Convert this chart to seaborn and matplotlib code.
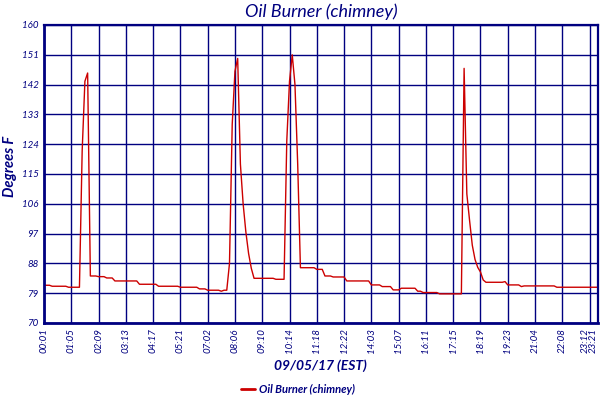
import numpy as np
import pandas as pd
import matplotlib
matplotlib.use("Agg")
import matplotlib.pyplot as plt
import seaborn as sns

title = "Oil Burner (chimney)"
series_name = "Oil Burner (chimney)"
y_label = "Degrees F"
x_label = "09/05/17 (EST)"
x_tick_labels = ["00:01", "01:05", "02:09", "03:13", "04:17", "05:21", "07:02",
                 "08:06", "09:10", "10:14", "11:18", "12:22", "14:03", "15:07",
                 "16:11", "17:15", "18:19", "19:23", "21:04", "22:08", "23:12", "23:21"]
x_tick_samples = [0, 10, 20, 30, 40, 50, 60, 70, 80, 90, 100, 110, 120, 130,
                  140, 150, 160, 170, 180, 190, 200, 203]
y_ticks = [70, 79, 88, 97, 106, 115, 124, 133, 142, 151, 160]

temps = [
    81.4, 81.4, 81.4, 81.1, 81.1, 81.1, 81.1, 81.1, 81.1, 80.8,   # 0-9
    80.8, 80.8, 80.8, 80.8, 122.0, 143.0, 145.5, 84.2, 84.2, 84.2,  # 10-19
    84.0, 84.0, 84.0, 83.6, 83.6, 83.6, 82.7, 82.7, 82.7, 82.7,   # 20-29
    82.7, 82.7, 82.7, 82.7, 82.7, 81.7, 81.7, 81.7, 81.7, 81.7,   # 30-39
    81.7, 81.7, 81.1, 81.1, 81.1, 81.1, 81.1, 81.1, 81.1, 81.1,   # 40-49
    80.8, 80.8, 80.8, 80.8, 80.8, 80.8, 80.8, 80.3, 80.3, 80.3,   # 50-59
    79.9, 79.9, 79.9, 79.9, 79.9, 79.6, 79.9, 79.9, 88.0, 130.0,  # 60-69
    146.0, 149.9, 118.0, 106.0, 97.5, 91.0, 86.5, 83.5, 83.5, 83.5,  # 70-79
    83.5, 83.5, 83.5, 83.5, 83.5, 83.2, 83.2, 83.2, 83.2, 125.0,  # 80-89
    143.0, 151.0, 142.0, 118.0, 86.7, 86.7, 86.7, 86.7, 86.7, 86.7,  # 90-99
    86.2, 86.2, 86.2, 84.2, 84.2, 84.2, 83.9, 83.9, 83.9, 83.9,   # 100-109
    83.9, 82.7, 82.7, 82.7, 82.7, 82.7, 82.7, 82.7, 82.7, 82.7,   # 110-119
    81.5, 81.5, 81.5, 81.5, 81.0, 81.0, 81.0, 81.0, 80.0, 80.0,   # 120-129
    80.0, 80.5, 80.5, 80.5, 80.5, 80.5, 80.5, 79.6, 79.6, 79.2,   # 130-139
    79.2, 79.2, 79.2, 79.2, 79.2, 78.8, 78.8, 78.8, 78.8, 78.8,   # 140-149
    78.8, 78.8, 78.8, 78.8, 146.9, 109.0, 101.0, 93.5, 89.2, 86.8,  # 150-159
    85.4, 83.0, 82.3, 82.3, 82.3, 82.3, 82.3, 82.3, 82.3, 82.5,   # 160-169
    81.5, 81.5, 81.5, 81.5, 81.5, 81.0, 81.2, 81.2, 81.2, 81.2,   # 170-179
    81.2, 81.2, 81.2, 81.2, 81.2, 81.2, 81.2, 81.2, 80.8, 80.8,   # 180-189
    80.8, 80.8, 80.8, 80.8, 80.8, 80.8, 80.8, 80.8, 80.8, 80.8,   # 190-199
    80.8, 80.8, 80.8, 80.8,                                       # 200-203
]

navy = "#000080"
red = "#cc0000"

sns.set_style("white")
plt.rcParams["font.family"] = ["Lato", "DejaVu Sans"]

df = pd.DataFrame({"sample": np.arange(len(temps)), "temp": temps})

fig = plt.figure(figsize=(6, 4), dpi=100)
ax = fig.add_axes([0.0733, 0.1925, 0.923, 0.745])

ax.set_axisbelow(True)
ax.grid(True, color=navy, linewidth=1.0)
sns.lineplot(data=df, x="sample", y="temp", ax=ax, color=red, linewidth=1.0,
             label=series_name, legend=False)

ax.set_xlim(0, 203)
ax.set_ylim(70, 160)
ax.set_xticks(x_tick_samples)
ax.set_xticklabels(x_tick_labels, rotation=90, fontsize=7, color=navy, style="italic")
xt = ax.get_xticklabels()
xt[-1].set_horizontalalignment("right")
xt[-2].set_horizontalalignment("right")
ax.set_yticks(y_ticks)
ax.set_yticklabels([str(v) for v in y_ticks], fontsize=7, color=navy, style="italic")
ax.tick_params(axis="both", length=0, pad=4)

for side in ["left", "bottom", "right", "top"]:
    ax.spines[side].set_color(navy)
    ax.spines[side].set_linewidth(1.6)
ax.spines["left"].set_linewidth(2.0)
ax.spines["bottom"].set_linewidth(2.0)

ax.set_title(title, fontsize=13, color=navy, style="italic", pad=6)
ax.set_ylabel(y_label, fontsize=10.5, color=navy, style="italic", fontweight="bold")
ax.yaxis.set_label_coords(-0.048, 0.527)
ax.set_xlabel(x_label, fontsize=10, color=navy, style="italic", fontweight="bold", labelpad=4)

handles, labels = ax.get_legend_handles_labels()
leg = fig.legend(handles, labels, loc="center", bbox_to_anchor=(0.497, 0.027), frameon=False,
                 prop={"size": 8, "style": "italic", "weight": "bold"},
                 handlelength=1.2, handletextpad=0.4)
for t in leg.get_texts():
    t.set_color(navy)
for l in leg.get_lines():
    l.set_linewidth(2)

fig.savefig("out.png", dpi=100)
